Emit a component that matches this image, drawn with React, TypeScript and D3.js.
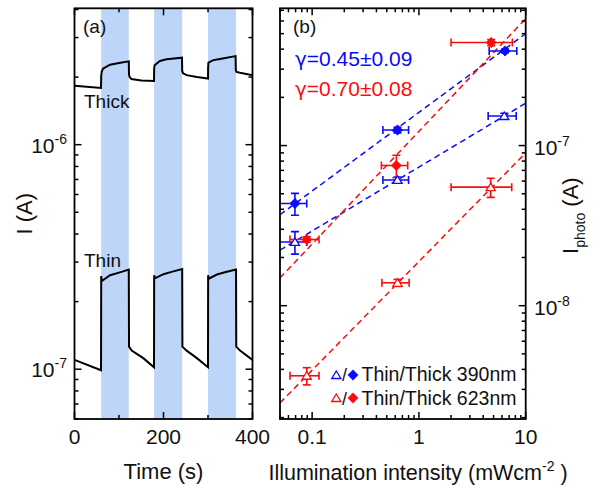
import React from "react";
import * as d3 from "d3";

// ---------- Panel (a) data ----------
const timeMajorTicks = [0, 200, 400];
const timeMinorTicks = [100, 300];
const lightOnIntervals: [number, number][] = [[60, 122], [179, 242], [300, 363]];

const thickT = [0, 59.6, 60, 61, 64, 80, 100, 122, 122.5, 124, 128, 150, 178.7, 179, 180, 192, 207, 241.6, 242, 244, 252, 275, 300, 300.3, 301, 312, 327, 362, 362.5, 364, 372, 400];
const thickI = [1.83e-6, 1.79e-6, 2.02e-6, 2.11e-6, 2.18e-6, 2.27e-6, 2.31e-6, 2.35e-6, 2.05e-6, 2.0e-6, 1.96e-6, 1.93e-6, 1.92e-6, 2.18e-6, 2.26e-6, 2.36e-6, 2.4e-6, 2.44e-6, 2.13e-6, 2.08e-6, 2.04e-6, 2.0e-6, 1.97e-6, 2.2e-6, 2.32e-6, 2.38e-6, 2.41e-6, 2.48e-6, 2.15e-6, 2.11e-6, 2.09e-6, 2.04e-6];

const thinT = [0, 59.6, 60, 61.5, 80, 102, 122, 122.5, 128.5, 154.6, 178.7, 179, 180.5, 200, 220, 242, 242.5, 252, 275, 300, 300.3, 301.8, 320, 340, 363, 363.5, 372, 400];
const thinI = [1.1e-7, 9.9e-8, 2.6e-7, 2.47e-7, 2.62e-7, 2.7e-7, 2.78e-7, 1.26e-7, 1.21e-7, 1.12e-7, 1.02e-7, 2.62e-7, 2.54e-7, 2.65e-7, 2.72e-7, 2.79e-7, 1.26e-7, 1.21e-7, 1.12e-7, 1.02e-7, 2.62e-7, 2.53e-7, 2.64e-7, 2.71e-7, 2.78e-7, 1.26e-7, 1.21e-7, 1.1e-7];

// ---------- Panel (b) data ----------
const intensityTickValues = [0.1, 1, 10];
const intensityTickLabels = ["0.1", "1", "10"];

const thin390X = [0.069, 0.63, 6.3];
const thin390Y = [2.5e-8, 6.1e-8, 1.53e-7];
const thin390Xerr = [0.02, 0.17, 1.85];
const thin390Yerr = [0.4e-8, 0.25e-8, 0.06e-7];

const thick390X = [0.069, 0.63, 6.4];
const thick390Y = [4.35e-8, 1.25e-7, 3.9e-7];
const thick390Xerr = [0.02, 0.17, 1.85];
const thick390Yerr = [0.68e-8, 0.05e-7, 0.1e-7];

const thin623X = [0.089, 0.63, 4.7];
const thin623Y = [3.65e-9, 1.39e-8, 5.5e-8];
const thin623Xerr = [0.027, 0.18, 2.7];
const thin623Yerr = [0.45e-9, 0.07e-8, 0.75e-8];

const thick623X = [0.089, 0.615, 4.75];
const thick623Y = [2.59e-8, 7.5e-8, 4.4e-7];
const thick623Xerr = [0.027, 0.17, 2.75];
const thick623Yerr = [0.1e-8, 1.2e-8, 0.2e-7];

// fitted power-law lines, endpoints [x, I]
const fitBlueThick: [number, number][] = [[0.05, 3.7e-8], [10, 5.0e-7]];
const fitBlueThin: [number, number][] = [[0.05, 2.22e-8], [10, 1.84e-7]];
const fitRedThick: [number, number][] = [[0.05, 1.49e-8], [10, 6.2e-7]];
const fitRedThin: [number, number][] = [[0.05, 2.47e-9], [10, 9.0e-8]];

const BLUE = "#0a0aff";
const RED = "#ff0a0a";
const BAND = "#bcd5f8";
const FONT = "Liberation Sans, Arial, Helvetica, sans-serif";

function logTicks(scale: any) {
  return scale.ticks().map((v: number) => {
    const l = Math.log10(v);
    return { v, major: Math.abs(l - Math.round(l)) < 1e-6 };
  });
}

export default function App() {
  const W = 601, H = 489;
  const top = 8.3, bottom = 419;
  const xA = d3.scaleLinear().domain([0, 400]).range([74.5, 252.5]);
  const yA = d3.scaleLog().domain([6e-8, 4.05e-6]).range([bottom, top]);
  const xB = d3.scaleLog().domain([0.05, 10]).range([280, 525.7]);
  const yB = d3.scaleLog().domain([1.96e-9, 7.2e-7]).range([bottom, top]);

  const MAJ = 7, MIN = 4, SW = 1.8;

  const lineA = d3.line<[number, number]>().x((d) => xA(d[0])).y((d) => yA(d[1]));
  const thickPts = thickT.map((t, i) => [t, thickI[i]] as [number, number]);
  const thinPts = thinT.map((t, i) => [t, thinI[i]] as [number, number]);

  const lineB = d3.line<[number, number]>().x((d) => xB(d[0])).y((d) => yB(d[1]));

  const yAticks = logTicks(yA);
  const yBticks = logTicks(yB);
  const xBticks = logTicks(xB);

  const errBars = (xs: number[], ys: number[], xe: number[], ye: number[], color: string, key: string) =>
    xs.map((x, i) => {
      const cx = xB(x), cy = yB(ys[i]);
      const x0 = xB(Math.max(x - xe[i], 0.0501)), x1 = xB(x + xe[i]);
      const y0 = yB(ys[i] - ye[i]), y1 = yB(ys[i] + ye[i]);
      const c = 4;
      return (
        <g key={key + i} stroke={color} strokeWidth={1.6} fill="none">
          <line x1={x0} x2={x1} y1={cy} y2={cy} />
          {x - xe[i] > 0.0501 && <line x1={x0} x2={x0} y1={cy - c} y2={cy + c} />}
          <line x1={x1} x2={x1} y1={cy - c} y2={cy + c} />
          <line x1={cx} x2={cx} y1={y0} y2={y1} />
          <line x1={cx - c} x2={cx + c} y1={y0} y2={y0} />
          <line x1={cx - c} x2={cx + c} y1={y1} y2={y1} />
        </g>
      );
    });

  const diamond = (cx: number, cy: number, color: string, key: string, r = 5.2) => (
    <path key={key} d={`M${cx},${cy - r}L${cx + r},${cy}L${cx},${cy + r}L${cx - r},${cy}Z`} fill={color} stroke={color} strokeWidth={0.5} />
  );
  const triangle = (cx: number, cy: number, color: string, key: string) => (
    <path key={key} d={`M${cx},${cy - 4}L${cx + 4.6},${cy + 3.5}L${cx - 4.6},${cy + 3.5}Z`} fill="white" stroke={color} strokeWidth={1.3} />
  );

  const supLabel = (base: string, exp: string, x: number, y: number, anchor: string, key: string) => (
    <text key={key} x={x} y={y} textAnchor={anchor} fontSize={21} fontFamily={FONT} fill="#111">
      {base}
      <tspan fontSize={14} dy={-9}>{exp}</tspan>
    </text>
  );

  return (
    <svg width={W} height={H} style={{ display: "block", position: "absolute", left: 0, top: 0 }}>
      <rect x={0} y={0} width={W} height={H} fill="white" />
      {/* ---------- Panel (a) ---------- */}
      <defs>
        <clipPath id="clipA"><rect x={xA(0)} y={top} width={xA(400) - xA(0)} height={bottom - top} /></clipPath>
        <clipPath id="clipB"><rect x={280} y={top} width={525.7 - 280} height={bottom - top} /></clipPath>
      </defs>
      {lightOnIntervals.map(([a, b], i) => (
        <rect key={"band" + i} x={xA(a)} y={top} width={xA(b) - xA(a)} height={bottom - top} fill={BAND} />
      ))}
      <g clipPath="url(#clipA)" fill="none" stroke="#000" strokeWidth={2}>
        <path d={lineA(thickPts) || ""} />
        <path d={lineA(thinPts) || ""} />
      </g>
      {/* ticks panel a */}
      <g stroke="#000" strokeWidth={1.5}>
        {yAticks.map((t: any, i: number) => (
          <g key={"ya" + i}>
            <line x1={xA(0)} x2={xA(0) + (t.major ? MAJ : MIN)} y1={yA(t.v)} y2={yA(t.v)} />
            <line x1={xA(400)} x2={xA(400) - (t.major ? MAJ : MIN)} y1={yA(t.v)} y2={yA(t.v)} />
          </g>
        ))}
        {timeMajorTicks.map((v, i) => (
          <g key={"xam" + i}>
            <line x1={xA(v)} x2={xA(v)} y1={bottom} y2={bottom - MAJ} />
            <line x1={xA(v)} x2={xA(v)} y1={top} y2={top + MAJ} />
          </g>
        ))}
        {timeMinorTicks.map((v, i) => (
          <g key={"xan" + i}>
            <line x1={xA(v)} x2={xA(v)} y1={bottom} y2={bottom - MIN} />
            <line x1={xA(v)} x2={xA(v)} y1={top} y2={top + MIN} />
          </g>
        ))}
      </g>
      <rect x={xA(0)} y={top} width={xA(400) - xA(0)} height={bottom - top} fill="none" stroke="#000" strokeWidth={SW} />
      {timeMajorTicks.map((v, i) => (
        <text key={"xal" + i} x={xA(v)} y={443.5} textAnchor="middle" fontSize={21} fontFamily={FONT} fill="#111">{v}</text>
      ))}
      {yAticks.filter((t: any) => t.major).map((t: any, i: number) =>
        supLabel("10", "-" + Math.round(-Math.log10(t.v)), 67, yA(t.v) + 8, "end", "yal" + i)
      )}
      <text x={xA(200)} y={478.5} textAnchor="middle" fontSize={22} fontFamily={FONT} fill="#111">Time (s)</text>
      <text transform={`translate(32,${(top + bottom) / 2}) rotate(-90)`} textAnchor="middle" fontSize={22} fontFamily={FONT} fill="#111">I (A)</text>
      <text x={83} y={33} fontSize={19} fontFamily={FONT} fill="#111">(a)</text>
      <text x={84} y={108} fontSize={19} fontFamily={FONT} fill="#111">Thick</text>
      <text x={84} y={267} fontSize={19} fontFamily={FONT} fill="#111">Thin</text>

      {/* ---------- Panel (b) ---------- */}
      <g clipPath="url(#clipB)" fill="none" strokeWidth={1.5} strokeDasharray="6,4">
        <path d={lineB(fitBlueThick) || ""} stroke={BLUE} />
        <path d={lineB(fitBlueThin) || ""} stroke={BLUE} />
        <path d={lineB(fitRedThick) || ""} stroke={RED} />
        <path d={lineB(fitRedThin) || ""} stroke={RED} />
      </g>
      <g clipPath="url(#clipB)">
        {errBars(thin390X, thin390Y, thin390Xerr, thin390Yerr, BLUE, "e1")}
        {errBars(thick390X, thick390Y, thick390Xerr, thick390Yerr, BLUE, "e2")}
        {errBars(thin623X, thin623Y, thin623Xerr, thin623Yerr, RED, "e3")}
        {errBars(thick623X, thick623Y, thick623Xerr, thick623Yerr, RED, "e4")}
        {thin390X.map((x, i) => triangle(xB(x), yB(thin390Y[i]), BLUE, "t1" + i))}
        {thick390X.map((x, i) => diamond(xB(x), yB(thick390Y[i]), BLUE, "d1" + i))}
        {thin623X.map((x, i) => triangle(xB(x), yB(thin623Y[i]), RED, "t2" + i))}
        {thick623X.map((x, i) => diamond(xB(x), yB(thick623Y[i]), RED, "d2" + i))}
      </g>
      <g stroke="#000" strokeWidth={1.5}>
        {yBticks.map((t: any, i: number) => (
          <g key={"yb" + i}>
            <line x1={280} x2={280 + (t.major ? MAJ : MIN)} y1={yB(t.v)} y2={yB(t.v)} />
            <line x1={525.7} x2={525.7 - (t.major ? MAJ : MIN)} y1={yB(t.v)} y2={yB(t.v)} />
          </g>
        ))}
        {xBticks.map((t: any, i: number) => (
          <g key={"xb" + i}>
            <line x1={xB(t.v)} x2={xB(t.v)} y1={bottom} y2={bottom - (t.major ? MAJ : MIN)} />
            <line x1={xB(t.v)} x2={xB(t.v)} y1={top} y2={top + (t.major ? MAJ : MIN)} />
          </g>
        ))}
      </g>
      <rect x={280} y={top} width={525.7 - 280} height={bottom - top} fill="none" stroke="#000" strokeWidth={SW} />
      {intensityTickValues.map((v, i) => (
        <text key={"xbl" + i} x={xB(v)} y={443.5} textAnchor="middle" fontSize={21} fontFamily={FONT} fill="#111">{intensityTickLabels[i]}</text>
      ))}
      {yBticks.filter((t: any) => t.major).map((t: any, i: number) =>
        supLabel("10", "-" + Math.round(-Math.log10(t.v)), 534, yB(t.v) + 9, "start", "ybl" + i)
      )}
      <text x={418} y={480} textAnchor="middle" fontSize={21.5} fontFamily={FONT} fill="#111">
        Illumination intensity (mWcm<tspan fontSize={14} dy={-9}>-2</tspan><tspan dy={9}> )</tspan>
      </text>
      <text transform={`translate(578,${(top + bottom) / 2 + 2}) rotate(-90)`} textAnchor="middle" fontSize={22} fontFamily={FONT} fill="#111">
        I<tspan fontSize={14} dy={7}>photo</tspan><tspan dy={-7}> (A)</tspan>
      </text>
      <text x={293} y={33} fontSize={19} fontFamily={FONT} fill="#111">(b)</text>
      <text x={295} y={66} fontSize={21} fontFamily={FONT} fill={BLUE}><tspan fontFamily="DejaVu Sans" fontSize={20}>γ</tspan>=0.45±0.09</text>
      <text x={295} y={96} fontSize={21} fontFamily={FONT} fill={RED}><tspan fontFamily="DejaVu Sans" fontSize={20}>γ</tspan>=0.70±0.08</text>
      {/* legend */}
      {triangle(336.3, 375, BLUE, "lt1")}
      <text x={342} y={381} fontSize={18} fontFamily={FONT} fill="#111">/</text>
      {diamond(353, 375, BLUE, "ld1")}
      <text x={361.5} y={381} fontSize={19.5} fontFamily={FONT} fill="#111">Thin/Thick 390nm</text>
      {triangle(336.3, 398, RED, "lt2")}
      <text x={342} y={404.5} fontSize={18} fontFamily={FONT} fill="#111">/</text>
      {diamond(353, 398, RED, "ld2")}
      <text x={361.5} y={404.5} fontSize={19.5} fontFamily={FONT} fill="#111">Thin/Thick 623nm</text>
    </svg>
  );
}
